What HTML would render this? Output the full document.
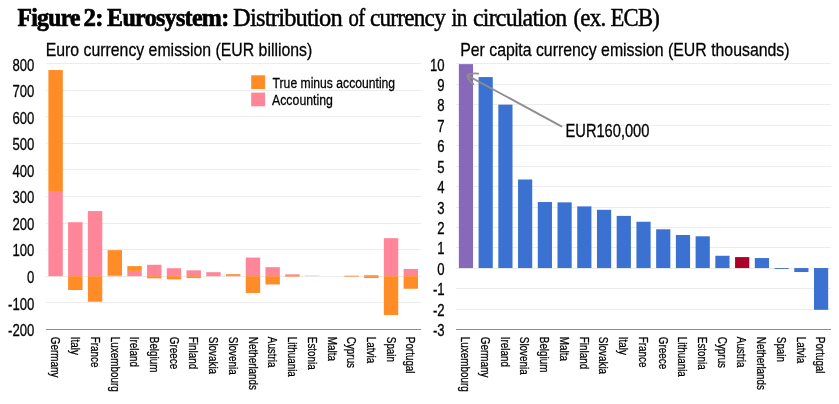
<!DOCTYPE html>
<html><head><meta charset="utf-8"><title>Figure 2</title>
<style>
html,body{margin:0;padding:0;background:#fff;}
body{width:839px;height:404px;overflow:hidden;font-family:"Liberation Sans",sans-serif;}
svg{display:block}
</style></head><body>
<svg width="839" height="404" viewBox="0 0 839 404">
<rect width="839" height="404" fill="#fff"/>
<g shape-rendering="auto">
<rect x="45.90" y="302" width="375.10" height="1" fill="#ececec"/>
<rect x="45.90" y="276" width="375.10" height="1" fill="#ececec"/>
<rect x="45.90" y="249" width="375.10" height="1" fill="#ececec"/>
<rect x="45.90" y="223" width="375.10" height="1" fill="#ececec"/>
<rect x="45.90" y="196" width="375.10" height="1" fill="#ececec"/>
<rect x="45.90" y="169" width="375.10" height="1" fill="#ececec"/>
<rect x="45.90" y="143" width="375.10" height="1" fill="#ececec"/>
<rect x="45.90" y="116" width="375.10" height="1" fill="#ececec"/>
<rect x="45.90" y="90" width="375.10" height="1" fill="#ececec"/>
<rect x="45.90" y="63" width="375.10" height="1" fill="#ececec"/>
<rect x="48.40" y="191.01" width="14.40" height="85.19" fill="#FF8599"/>
<rect x="48.40" y="70.05" width="14.40" height="120.96" fill="#FF8C26"/>
<rect x="68.13" y="222.22" width="14.40" height="53.98" fill="#FF8599"/>
<rect x="68.13" y="276.20" width="14.40" height="13.83" fill="#FF8C26"/>
<rect x="87.87" y="211.05" width="14.40" height="65.15" fill="#FF8599"/>
<rect x="87.87" y="276.20" width="14.40" height="25.53" fill="#FF8C26"/>
<rect x="107.60" y="275.67" width="14.40" height="0.53" fill="#FF8599"/>
<rect x="107.60" y="250.14" width="14.40" height="25.53" fill="#FF8C26"/>
<rect x="127.33" y="270.88" width="14.40" height="5.32" fill="#FF8599"/>
<rect x="127.33" y="266.10" width="14.40" height="4.79" fill="#FF8C26"/>
<rect x="147.07" y="264.77" width="14.40" height="11.43" fill="#FF8599"/>
<rect x="147.07" y="276.20" width="14.40" height="2.13" fill="#FF8C26"/>
<rect x="166.80" y="268.22" width="14.40" height="7.98" fill="#FF8599"/>
<rect x="166.80" y="276.20" width="14.40" height="3.19" fill="#FF8C26"/>
<rect x="186.53" y="270.35" width="14.40" height="5.85" fill="#FF8599"/>
<rect x="186.53" y="276.20" width="14.40" height="1.86" fill="#FF8C26"/>
<rect x="206.26" y="272.21" width="14.40" height="3.99" fill="#FF8599"/>
<rect x="226.00" y="274.87" width="14.40" height="1.33" fill="#FF8599"/>
<rect x="226.00" y="274.07" width="14.40" height="0.80" fill="#FF8C26"/>
<rect x="245.73" y="257.59" width="14.40" height="18.61" fill="#FF8599"/>
<rect x="245.73" y="276.20" width="14.40" height="16.75" fill="#FF8C26"/>
<rect x="265.46" y="267.16" width="14.40" height="9.04" fill="#FF8599"/>
<rect x="265.46" y="276.20" width="14.40" height="8.24" fill="#FF8C26"/>
<rect x="285.20" y="274.34" width="14.40" height="1.86" fill="#FF8599"/>
<rect x="285.20" y="276.20" width="14.40" height="0.53" fill="#FF8C26"/>
<rect x="304.93" y="275.40" width="14.40" height="0.80" fill="#FFC2CC"/>
<rect x="344.40" y="275.67" width="14.40" height="0.53" fill="#FF8599"/>
<rect x="344.40" y="276.20" width="14.40" height="0.53" fill="#FF8C26"/>
<rect x="364.13" y="275.14" width="14.40" height="1.06" fill="#FF8599"/>
<rect x="364.13" y="276.20" width="14.40" height="1.86" fill="#FF8C26"/>
<rect x="383.86" y="238.18" width="14.40" height="38.02" fill="#FF8599"/>
<rect x="383.86" y="276.20" width="14.40" height="38.82" fill="#FF8C26"/>
<rect x="403.59" y="268.94" width="14.40" height="7.26" fill="#FF8599"/>
<rect x="403.59" y="276.20" width="14.40" height="12.55" fill="#FF8C26"/>
<rect x="45.90" y="329" width="375.10" height="1" fill="#8c8c8c"/>
<rect x="251.20" y="75.30" width="13.90" height="13.70" fill="#FF8C26"/>
<rect x="251.20" y="92.60" width="13.90" height="13.70" fill="#FF8599"/>
<rect x="456.10" y="309" width="374.90" height="1" fill="#ececec"/>
<rect x="456.10" y="288" width="374.90" height="1" fill="#ececec"/>
<rect x="456.10" y="268" width="374.90" height="1" fill="#ececec"/>
<rect x="456.10" y="247" width="374.90" height="1" fill="#ececec"/>
<rect x="456.10" y="227" width="374.90" height="1" fill="#ececec"/>
<rect x="456.10" y="207" width="374.90" height="1" fill="#ececec"/>
<rect x="456.10" y="186" width="374.90" height="1" fill="#ececec"/>
<rect x="456.10" y="166" width="374.90" height="1" fill="#ececec"/>
<rect x="456.10" y="145" width="374.90" height="1" fill="#ececec"/>
<rect x="456.10" y="125" width="374.90" height="1" fill="#ececec"/>
<rect x="456.10" y="104" width="374.90" height="1" fill="#ececec"/>
<rect x="456.10" y="84" width="374.90" height="1" fill="#ececec"/>
<rect x="456.10" y="63" width="374.90" height="1" fill="#ececec"/>
<rect x="458.85" y="64.12" width="14.20" height="203.93" fill="#8868B8"/>
<rect x="478.58" y="77.07" width="14.20" height="190.98" fill="#3B72D1"/>
<rect x="498.31" y="104.65" width="14.20" height="163.40" fill="#3B72D1"/>
<rect x="518.04" y="179.50" width="14.20" height="88.55" fill="#3B72D1"/>
<rect x="537.77" y="202.04" width="14.20" height="66.01" fill="#3B72D1"/>
<rect x="557.50" y="202.36" width="14.20" height="65.69" fill="#3B72D1"/>
<rect x="577.23" y="206.39" width="14.20" height="61.66" fill="#3B72D1"/>
<rect x="596.96" y="209.81" width="14.20" height="58.24" fill="#3B72D1"/>
<rect x="616.69" y="215.90" width="14.20" height="52.15" fill="#3B72D1"/>
<rect x="636.42" y="221.75" width="14.20" height="46.30" fill="#3B72D1"/>
<rect x="656.15" y="229.30" width="14.20" height="38.75" fill="#3B72D1"/>
<rect x="675.88" y="235.00" width="14.20" height="33.05" fill="#3B72D1"/>
<rect x="695.61" y="236.29" width="14.20" height="31.76" fill="#3B72D1"/>
<rect x="715.34" y="255.76" width="14.20" height="12.29" fill="#3B72D1"/>
<rect x="735.07" y="257.09" width="14.20" height="10.96" fill="#AB0229"/>
<rect x="754.80" y="258.06" width="14.20" height="9.99" fill="#3B72D1"/>
<rect x="774.53" y="268.05" width="14.20" height="0.92" fill="#3B72D1"/>
<rect x="794.26" y="268.05" width="14.20" height="3.99" fill="#3B72D1"/>
<rect x="813.99" y="268.05" width="14.20" height="41.78" fill="#3B72D1"/>
<rect x="456.10" y="329" width="374.90" height="1" fill="#8c8c8c"/>
<g stroke="#8e8e8e" stroke-width="1.9" fill="none" stroke-linecap="round" stroke-linejoin="round"><path d="M561.4 126.3 L467.4 75.5"/><path d="M478.2 73.6 C474 73.1 470 73.5 467.1 75.3 C468.4 79 470.4 82.4 473.2 84"/></g>
</g>
<g fill="#000" stroke="#000" stroke-width="0.3" opacity="0.999">
<text transform="translate(34.30 336.08) scale(0.8200 1)" font-family="Liberation Sans, sans-serif" font-size="16" text-anchor="end">-200</text>
<text transform="translate(34.30 309.52) scale(0.8200 1)" font-family="Liberation Sans, sans-serif" font-size="16" text-anchor="end">-100</text>
<text transform="translate(34.30 282.97) scale(0.8200 1)" font-family="Liberation Sans, sans-serif" font-size="16" text-anchor="end">0</text>
<text transform="translate(34.30 256.42) scale(0.8200 1)" font-family="Liberation Sans, sans-serif" font-size="16" text-anchor="end">100</text>
<text transform="translate(34.30 229.86) scale(0.8200 1)" font-family="Liberation Sans, sans-serif" font-size="16" text-anchor="end">200</text>
<text transform="translate(34.30 203.30) scale(0.8200 1)" font-family="Liberation Sans, sans-serif" font-size="16" text-anchor="end">300</text>
<text transform="translate(34.30 176.75) scale(0.8200 1)" font-family="Liberation Sans, sans-serif" font-size="16" text-anchor="end">400</text>
<text transform="translate(34.30 150.19) scale(0.8200 1)" font-family="Liberation Sans, sans-serif" font-size="16" text-anchor="end">500</text>
<text transform="translate(34.30 123.64) scale(0.8200 1)" font-family="Liberation Sans, sans-serif" font-size="16" text-anchor="end">600</text>
<text transform="translate(34.30 97.08) scale(0.8200 1)" font-family="Liberation Sans, sans-serif" font-size="16" text-anchor="end">700</text>
<text transform="translate(34.30 70.53) scale(0.8200 1)" font-family="Liberation Sans, sans-serif" font-size="16" text-anchor="end">800</text>
<text transform="translate(51.30 336.80) rotate(90) scale(0.7600 1)" font-family="Liberation Sans, sans-serif" font-size="13">Germany</text>
<text transform="translate(71.03 336.80) rotate(90) scale(0.7600 1)" font-family="Liberation Sans, sans-serif" font-size="13">Italy</text>
<text transform="translate(90.77 336.80) rotate(90) scale(0.7600 1)" font-family="Liberation Sans, sans-serif" font-size="13">France</text>
<text transform="translate(110.50 336.80) rotate(90) scale(0.7600 1)" font-family="Liberation Sans, sans-serif" font-size="13">Luxembourg</text>
<text transform="translate(130.23 336.80) rotate(90) scale(0.7600 1)" font-family="Liberation Sans, sans-serif" font-size="13">Ireland</text>
<text transform="translate(149.97 336.80) rotate(90) scale(0.7600 1)" font-family="Liberation Sans, sans-serif" font-size="13">Belgium</text>
<text transform="translate(169.70 336.80) rotate(90) scale(0.7600 1)" font-family="Liberation Sans, sans-serif" font-size="13">Greece</text>
<text transform="translate(189.43 336.80) rotate(90) scale(0.7600 1)" font-family="Liberation Sans, sans-serif" font-size="13">Finland</text>
<text transform="translate(209.16 336.80) rotate(90) scale(0.7600 1)" font-family="Liberation Sans, sans-serif" font-size="13">Slovakia</text>
<text transform="translate(228.90 336.80) rotate(90) scale(0.7600 1)" font-family="Liberation Sans, sans-serif" font-size="13">Slovenia</text>
<text transform="translate(248.63 336.80) rotate(90) scale(0.7600 1)" font-family="Liberation Sans, sans-serif" font-size="13">Netherlands</text>
<text transform="translate(268.36 336.80) rotate(90) scale(0.7600 1)" font-family="Liberation Sans, sans-serif" font-size="13">Austria</text>
<text transform="translate(288.10 336.80) rotate(90) scale(0.7600 1)" font-family="Liberation Sans, sans-serif" font-size="13">Lithuania</text>
<text transform="translate(307.83 336.80) rotate(90) scale(0.7600 1)" font-family="Liberation Sans, sans-serif" font-size="13">Estonia</text>
<text transform="translate(327.56 336.80) rotate(90) scale(0.7600 1)" font-family="Liberation Sans, sans-serif" font-size="13">Malta</text>
<text transform="translate(347.30 336.80) rotate(90) scale(0.7600 1)" font-family="Liberation Sans, sans-serif" font-size="13">Cyprus</text>
<text transform="translate(367.03 336.80) rotate(90) scale(0.7600 1)" font-family="Liberation Sans, sans-serif" font-size="13">Latvia</text>
<text transform="translate(386.76 336.80) rotate(90) scale(0.7600 1)" font-family="Liberation Sans, sans-serif" font-size="13">Spain</text>
<text transform="translate(406.49 336.80) rotate(90) scale(0.7600 1)" font-family="Liberation Sans, sans-serif" font-size="13">Portugal</text>
<text transform="translate(444.60 336.10) scale(0.8200 1)" font-family="Liberation Sans, sans-serif" font-size="16" text-anchor="end">-3</text>
<text transform="translate(444.60 315.68) scale(0.8200 1)" font-family="Liberation Sans, sans-serif" font-size="16" text-anchor="end">-2</text>
<text transform="translate(444.60 295.25) scale(0.8200 1)" font-family="Liberation Sans, sans-serif" font-size="16" text-anchor="end">-1</text>
<text transform="translate(444.60 274.83) scale(0.8200 1)" font-family="Liberation Sans, sans-serif" font-size="16" text-anchor="end">0</text>
<text transform="translate(444.60 254.41) scale(0.8200 1)" font-family="Liberation Sans, sans-serif" font-size="16" text-anchor="end">1</text>
<text transform="translate(444.60 233.98) scale(0.8200 1)" font-family="Liberation Sans, sans-serif" font-size="16" text-anchor="end">2</text>
<text transform="translate(444.60 213.56) scale(0.8200 1)" font-family="Liberation Sans, sans-serif" font-size="16" text-anchor="end">3</text>
<text transform="translate(444.60 193.14) scale(0.8200 1)" font-family="Liberation Sans, sans-serif" font-size="16" text-anchor="end">4</text>
<text transform="translate(444.60 172.72) scale(0.8200 1)" font-family="Liberation Sans, sans-serif" font-size="16" text-anchor="end">5</text>
<text transform="translate(444.60 152.29) scale(0.8200 1)" font-family="Liberation Sans, sans-serif" font-size="16" text-anchor="end">6</text>
<text transform="translate(444.60 131.87) scale(0.8200 1)" font-family="Liberation Sans, sans-serif" font-size="16" text-anchor="end">7</text>
<text transform="translate(444.60 111.45) scale(0.8200 1)" font-family="Liberation Sans, sans-serif" font-size="16" text-anchor="end">8</text>
<text transform="translate(444.60 91.02) scale(0.8200 1)" font-family="Liberation Sans, sans-serif" font-size="16" text-anchor="end">9</text>
<text transform="translate(444.60 70.60) scale(0.8200 1)" font-family="Liberation Sans, sans-serif" font-size="16" text-anchor="end">10</text>
<text transform="translate(461.20 336.80) rotate(90) scale(0.7600 1)" font-family="Liberation Sans, sans-serif" font-size="13">Luxembourg</text>
<text transform="translate(480.93 336.80) rotate(90) scale(0.7600 1)" font-family="Liberation Sans, sans-serif" font-size="13">Germany</text>
<text transform="translate(500.66 336.80) rotate(90) scale(0.7600 1)" font-family="Liberation Sans, sans-serif" font-size="13">Ireland</text>
<text transform="translate(520.39 336.80) rotate(90) scale(0.7600 1)" font-family="Liberation Sans, sans-serif" font-size="13">Slovenia</text>
<text transform="translate(540.12 336.80) rotate(90) scale(0.7600 1)" font-family="Liberation Sans, sans-serif" font-size="13">Belgium</text>
<text transform="translate(559.85 336.80) rotate(90) scale(0.7600 1)" font-family="Liberation Sans, sans-serif" font-size="13">Malta</text>
<text transform="translate(579.58 336.80) rotate(90) scale(0.7600 1)" font-family="Liberation Sans, sans-serif" font-size="13">Finland</text>
<text transform="translate(599.31 336.80) rotate(90) scale(0.7600 1)" font-family="Liberation Sans, sans-serif" font-size="13">Slovakia</text>
<text transform="translate(619.04 336.80) rotate(90) scale(0.7600 1)" font-family="Liberation Sans, sans-serif" font-size="13">Italy</text>
<text transform="translate(638.77 336.80) rotate(90) scale(0.7600 1)" font-family="Liberation Sans, sans-serif" font-size="13">France</text>
<text transform="translate(658.50 336.80) rotate(90) scale(0.7600 1)" font-family="Liberation Sans, sans-serif" font-size="13">Greece</text>
<text transform="translate(678.23 336.80) rotate(90) scale(0.7600 1)" font-family="Liberation Sans, sans-serif" font-size="13">Lithuania</text>
<text transform="translate(697.96 336.80) rotate(90) scale(0.7600 1)" font-family="Liberation Sans, sans-serif" font-size="13">Estonia</text>
<text transform="translate(717.69 336.80) rotate(90) scale(0.7600 1)" font-family="Liberation Sans, sans-serif" font-size="13">Cyprus</text>
<text transform="translate(737.42 336.80) rotate(90) scale(0.7600 1)" font-family="Liberation Sans, sans-serif" font-size="13">Austria</text>
<text transform="translate(757.15 336.80) rotate(90) scale(0.7600 1)" font-family="Liberation Sans, sans-serif" font-size="13">Netherlands</text>
<text transform="translate(776.88 336.80) rotate(90) scale(0.7600 1)" font-family="Liberation Sans, sans-serif" font-size="13">Spain</text>
<text transform="translate(796.61 336.80) rotate(90) scale(0.7600 1)" font-family="Liberation Sans, sans-serif" font-size="13">Latvia</text>
<text transform="translate(816.34 336.80) rotate(90) scale(0.7600 1)" font-family="Liberation Sans, sans-serif" font-size="13">Portugal</text>
<text transform="translate(17.40 25.80) scale(0.9691 1)" font-family="Liberation Serif, serif" font-size="24.4" font-weight="bold" stroke="#000" stroke-width="0.7" letter-spacing="-0.7">Figure</text>
<text transform="translate(83.58 25.80) scale(1.0185 1)" font-family="Liberation Serif, serif" font-size="24.4" font-weight="bold" stroke="#000" stroke-width="0.7" letter-spacing="-0.7">2:</text>
<text transform="translate(107.10 25.80) scale(0.9848 1)" font-family="Liberation Serif, serif" font-size="24.4" font-weight="bold" stroke="#000" stroke-width="0.7" letter-spacing="-0.7">Eurosystem:</text>
<text transform="translate(233.10 25.80) scale(0.9792 1)" font-family="Liberation Serif, serif" font-size="25" stroke="#000" stroke-width="0.5" letter-spacing="-0.8">Distribution</text>
<text transform="translate(348.60 25.80) scale(0.8309 1)" font-family="Liberation Serif, serif" font-size="25" stroke="#000" stroke-width="0.5" letter-spacing="-0.8">of</text>
<text transform="translate(370.00 25.80) scale(0.9254 1)" font-family="Liberation Serif, serif" font-size="25" stroke="#000" stroke-width="0.5" letter-spacing="-0.8">currency</text>
<text transform="translate(451.60 25.80) scale(0.8461 1)" font-family="Liberation Serif, serif" font-size="25" stroke="#000" stroke-width="0.5" letter-spacing="-0.8">in</text>
<text transform="translate(473.00 25.80) scale(0.9527 1)" font-family="Liberation Serif, serif" font-size="25" stroke="#000" stroke-width="0.5" letter-spacing="-0.8">circulation</text>
<text transform="translate(573.38 25.80) scale(0.9158 1)" font-family="Liberation Serif, serif" font-size="25" stroke="#000" stroke-width="0.5" letter-spacing="-0.8">(ex.</text>
<text transform="translate(610.50 25.80) scale(0.9056 1)" font-family="Liberation Serif, serif" font-size="25" stroke="#000" stroke-width="0.5" letter-spacing="-0.8">ECB)</text>
<text transform="translate(45.65 56.00) scale(0.8519 1)" font-family="Liberation Sans, sans-serif" font-size="18.6">Euro currency emission (EUR billions)</text>
<text transform="translate(272.60 88.00) scale(0.8114 1)" font-family="Liberation Sans, sans-serif" font-size="15">True minus accounting</text>
<text transform="translate(272.00 105.10) scale(0.8217 1)" font-family="Liberation Sans, sans-serif" font-size="15">Accounting</text>
<text transform="translate(460.15 56.00) scale(0.8531 1)" font-family="Liberation Sans, sans-serif" font-size="18.6">Per capita currency emission (EUR thousands)</text>
<text transform="translate(565.56 136.90) scale(0.8374 1)" font-family="Liberation Sans, sans-serif" font-size="17.5">EUR160,000</text>
</g>
</svg>
</body></html>
